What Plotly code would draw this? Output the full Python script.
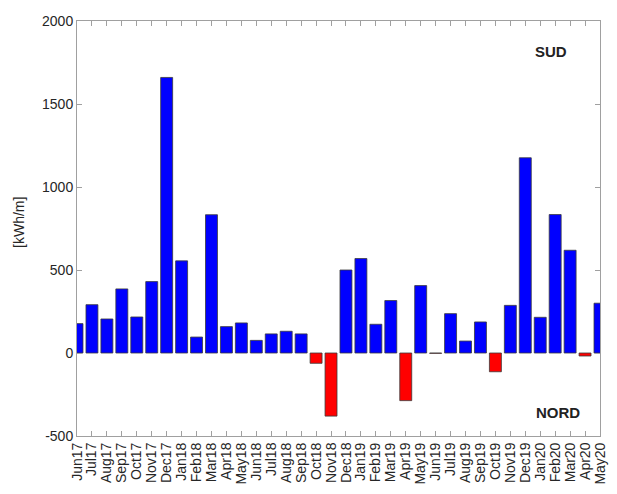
import plotly.graph_objects as go

months = ["Jun17","Jul17","Aug17","Sep17","Oct17","Nov17","Dec17",
          "Jan18","Feb18","Mar18","Apr18","May18","Jun18","Jul18","Aug18","Sep18","Oct18","Nov18","Dec18",
          "Jan19","Feb19","Mar19","Apr19","May19","Jun19","Jul19","Aug19","Sep19","Oct19","Nov19","Dec19",
          "Jan20","Feb20","Mar20","Apr20","May20"]
values = [177, 291, 205, 386, 217, 430, 1660,
          555, 96, 833, 159, 181, 76, 115, 131, 115, -62, -380, 500,
          569, 173, 316, -287, 406, -2, 237, 72, 187, -113, 287, 1176,
          215, 834, 619, -18, 300]
y_ticks = [-500, 0, 500, 1000, 1500, 2000]

positions = list(range(1, len(months) + 1))
colors = ["#0000ff" if v >= 0 else "#ff0000" for v in values]

fig = go.Figure()
fig.add_trace(go.Bar(
    x=positions, y=values, width=0.8,
    marker=dict(color=colors, line=dict(color="#3a3a3a", width=0.8)),
    showlegend=False,
))

L, R, T, B = 77, 9, 21, 56
W, H = 617, 494
pw = W - L - R
ph = H - T - B

axis_common = dict(
    showgrid=False, zeroline=False, showline=True, linecolor="#a0a0a0", linewidth=1,
    mirror="allticks", ticks="inside", ticklen=5, tickcolor="#a0a0a0", tickwidth=1,
    tickfont=dict(family="Liberation Sans, Arial, sans-serif", size=14, color="#262626"),
)

fig.update_layout(
    width=W, height=H,
    margin=dict(l=L, r=R, t=T, b=B),
    paper_bgcolor="white", plot_bgcolor="white",
    bargap=0.2,
    xaxis=dict(range=[1, len(months)], tickmode="array", tickvals=positions, ticktext=months,
               tickangle=-90, **axis_common),
    yaxis=dict(range=[-500, 2000], tickmode="array", tickvals=y_ticks,
               ticktext=[str(t) for t in y_ticks], **axis_common),
    annotations=[
        dict(text="[kWh/m]", textangle=-90, xref="paper", yref="paper",
             x=(18 - L) / pw, y=(H - B - 223) / ph, showarrow=False,
             xanchor="center", yanchor="middle",
             font=dict(family="Liberation Sans, Arial, sans-serif", size=14, color="#262626")),
        dict(text="<b>SUD</b>", xref="paper", yref="paper",
             x=(558 - L) / pw, y=(H - B - 52) / ph, showarrow=False,
             xanchor="center", yanchor="middle",
             font=dict(family="Liberation Sans, Arial, sans-serif", size=15, color="#222222")),
        dict(text="<b>NORD</b>", xref="paper", yref="paper",
             x=(565 - L) / pw, y=(H - B - 414.5) / ph, showarrow=False,
             xanchor="center", yanchor="middle",
             font=dict(family="Liberation Sans, Arial, sans-serif", size=15, color="#222222")),
    ],
)

fig.write_html("out.html")
